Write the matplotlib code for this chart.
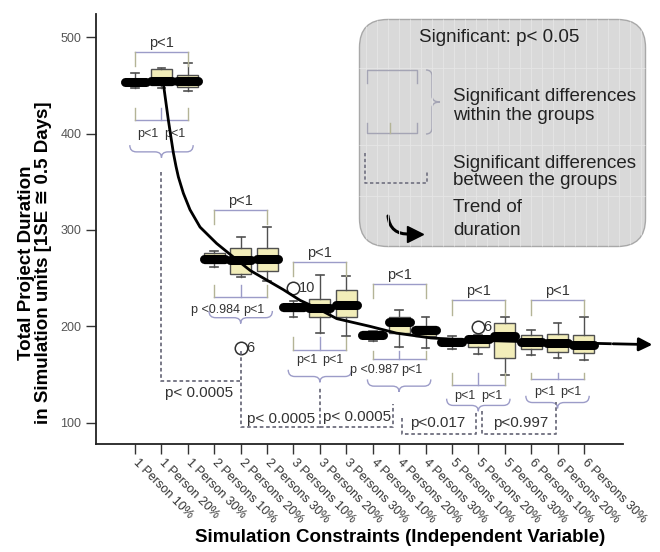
import matplotlib
matplotlib.use('Agg')
import matplotlib.pyplot as plt
from matplotlib.path import Path
from matplotlib.patches import PathPatch, FancyBboxPatch
import numpy as np

plt.rcParams['font.family'] = ['Liberation Sans', 'DejaVu Sans']

# categories
labels = ['1 Person 10%', '1 Person 20%', '1 Person 30%',
          '2 Persons 10%', '2 Persons 20%', '2 Persons 30%',
          '3 Persons 10%', '3 Persons 20%', '3 Persons 30%',
          '4 Persons 10%', '4 Persons 20%', '4 Persons 30%',
          '5 Persons 10%', '5 Persons 20%', '5 Persons 30%',
          '6 Persons 10%', '6 Persons 20%', '6 Persons 30%']

# box statistics
whislo = [447, 447, 444, 262, 251, 247, 210, 193, 190, 185, 179, 178, 177, 171, 150, 170, 167, 165]
q1 = [450, 450, 448, 266, 254, 257, 216, 210, 210, 188, 193, 190, 181, 179, 167, 177, 173, 172]
med = [453, 454, 454, 270, 269, 270, 220, 219, 222, 191, 205, 196, 184, 187, 190, 184, 183, 181]
q3 = [457, 467, 461, 276, 281, 281, 223, 228, 238, 195, 210, 200, 188, 190, 203, 191, 192, 191]
whishi = [463, 468, 473, 278, 293, 303, 226, 253, 252, 195, 217, 210, 190, 191, 210, 196, 203, 210]

# outliers
outlier_idx = [4, 6, 13]
outlier_val = [178, 240, 199]
outlier_lbl = ['6', '10', '6']

# trend of duration
trend_x = [2.07, 2.17, 2.26, 2.36, 2.45, 2.55, 2.64, 2.74, 2.83, 3.08, 3.46, 4.09, 4.72, 5.36, 5.99,
           6.62, 7.25, 7.88, 8.64, 9.9, 10.9, 12.2, 13.4, 16.0, 19.0, 20.7]
trend_y = [452, 432, 414, 396, 380, 366, 355, 346, 338, 321, 303, 286, 272, 258, 248,
           238, 227, 219, 208, 200, 193, 188, 186, 184, 182, 181]

# significance annotations per group
top_y = [485, 321, 267, 244, 227, 227]
top_lbl = ['p<1'] * 6
low_top = [426, 243, 189, 174, 152, 152]
low_bot = [414, 230, 176, 166, 139, 145]
low_lab_y = [400, 217, 165, 155, 128, 132]
low_lbl = [['p<1', 'p<1'], ['p <0.984', 'p<1'], ['p<1', 'p<1'],
           ['p <0.987', 'p<1'], ['p<1', 'p<1'], ['p<1', 'p<1']]
brace_y = [381, 209, 148, 138, 118, 121]

# between group comparisons (dashed)
dash_x = [[2, 2, 5], [5, 5, 8, 8], [8, 10.75, 10.75], [11.1, 11.1, 13.9, 13.9], [14.15, 14.15, 16.95, 16.95]]
dash_y = [[360, 143, 143], [174, 96, 96, 136], [96, 96, 119], [105, 88, 88, 112], [112, 88, 88, 122]]
dash_lbl = ['p< 0.0005', 'p< 0.0005', 'p< 0.0005', 'p<0.017', 'p<0.997']
dash_lbl_x = [2.15, 5.23, 8.12, 11.42, 14.56]
dash_lbl_y = [131, 104, 106, 100, 100]

pos = np.arange(1, len(labels) + 1)
brk_h = '#9c9cc8'
brk_v = '#b4b496'
dash_c = '#6e6e7e'


def brace(ax, s0, s1, sm, tb, e, tip, d, swap=False, **kw):
    pts = [(s0, tb + e), (s0, tb), (s0 + d, tb), (sm - d, tb), (sm, tb), (sm, tb + tip),
           (s1, tb + e), (s1, tb), (s1 - d, tb), (sm + d, tb), (sm, tb), (sm, tb + tip)]
    if swap:
        pts = [(t, s) for s, t in pts]
    codes = [Path.MOVETO, Path.CURVE3, Path.CURVE3, Path.LINETO, Path.CURVE3, Path.CURVE3] * 2
    ax.add_patch(PathPatch(Path(pts, codes), fill=False, **kw))


fig = plt.figure(figsize=(6.6, 5.52), dpi=100)
ax = fig.add_axes([96 / 660, 1 - 444 / 552, 527 / 660, 430 / 552])

stats = []
for i in range(len(labels)):
    fl = [outlier_val[k] for k in range(len(outlier_idx)) if outlier_idx[k] == i]
    stats.append(dict(med=med[i], q1=q1[i], q3=q3[i], whislo=whislo[i], whishi=whishi[i], fliers=fl))

ax.bxp(stats, positions=pos, widths=0.8, patch_artist=True, capwidths=0.3,
       boxprops=dict(facecolor='#f2edb9', edgecolor='#505050', lw=1),
       whiskerprops=dict(color='#505050', lw=1),
       capprops=dict(color='#505050', lw=1.2),
       medianprops=dict(color='black', lw=6.5, solid_capstyle='round'),
       flierprops=dict(marker='o', mfc='none', mec='#303030', ms=9, mew=1.1))

for k in range(len(outlier_idx)):
    ax.text(pos[outlier_idx[k]] + 0.2, outlier_val[k], outlier_lbl[k], fontsize=10.5,
            color='#333333', va='center', ha='left')

# trend line with arrow
ax.plot(trend_x[:-1], trend_y[:-1], color='black', lw=2, clip_on=False, zorder=4,
        solid_joinstyle='round')
ax.annotate('', xy=(trend_x[-1], trend_y[-1]), xytext=(trend_x[-2], trend_y[-2]),
            arrowprops=dict(arrowstyle='-|>', color='black', lw=2, mutation_scale=20),
            annotation_clip=False, zorder=4)

# group annotations
for g in range(6):
    p0, p1, p2 = pos[3 * g], pos[3 * g + 1], pos[3 * g + 2]
    y = top_y[g]
    ax.plot([p0, p2], [y, y], color=brk_h, lw=1)
    ax.plot([p0, p0], [y, y - 15], color=brk_v, lw=1)
    ax.plot([p2, p2], [y, y - 15], color=brk_v, lw=1)
    ax.text((p0 + p2) / 2, y + 2, top_lbl[g], ha='center', va='bottom', fontsize=10.5, color='#333333')

    ax.plot([p0, p2], [low_bot[g], low_bot[g]], color=brk_h, lw=1)
    for p in (p0, p1, p2):
        ax.plot([p, p], [low_top[g], low_bot[g]], color=brk_v if p != p1 else brk_h, lw=1)
    l1, l2 = low_lbl[g]
    if len(l1) > 4:
        ax.text(p1 - 0.02, low_lab_y[g], l1, ha='right', va='center', fontsize=9, color='#333333')
        ax.text(p1 + 0.08, low_lab_y[g], l2, ha='left', va='center', fontsize=9, color='#333333')
    else:
        ax.text((p0 + p1) / 2, low_lab_y[g], l1, ha='center', va='center', fontsize=9, color='#333333')
        ax.text((p1 + p2) / 2, low_lab_y[g], l2, ha='center', va='center', fontsize=9, color='#333333')
    brace(ax, p0 - 0.2, p2 + 0.2, p1, brace_y[g], 7, -6, 0.25, color=brk_h, lw=1)

for k in range(len(dash_x)):
    ax.plot(dash_x[k], dash_y[k], color=dash_c, lw=1.3, ls=(0, (2, 1.5)))
    ax.text(dash_lbl_x[k], dash_lbl_y[k], dash_lbl[k], ha='left', va='center', fontsize=11, color='#333333')

ax.set_xlim(-0.48, 19.48)
ax.set_ylim(78, 524)
ax.set_yticks([100, 200, 300, 400, 500])
ax.set_xticks(pos)
ax.set_xticklabels(labels, rotation=-45, ha='left', va='center', rotation_mode='anchor',
                   fontsize=9, color='#333333')
ax.tick_params(axis='both', direction='out', length=7, width=1, color='#333333')
ax.tick_params(axis='x', pad=5)
ax.tick_params(axis='y', labelsize=9, labelcolor='#555555')
for s in ('top', 'right'):
    ax.spines[s].set_visible(False)
for s in ('left', 'bottom'):
    ax.spines[s].set_linewidth(1.3)
    ax.spines[s].set_color('#222222')

fig.text(35 / 660, 1 - 263 / 552,
         'Total Project Duration\nin Simulation units [1SE \u2245 0.5 Days]',
         rotation=90, ha='center', va='center', fontsize=13.5, fontweight='bold',
         multialignment='center', linespacing=1.05)
fig.text(400 / 660, 1 - 538 / 552, 'Simulation Constraints (Independent Variable)',
         ha='center', va='center', fontsize=13.5, fontweight='bold')

# legend panel in pixel units
lg = fig.add_axes([358 / 660, 1 - 248 / 552, 289 / 660, 230 / 552], zorder=5)
lg.set_xlim(0, 289)
lg.set_ylim(230, 0)
lg.axis('off')
panel = FancyBboxPatch((1.5, 1.5), 286, 227, boxstyle='round,pad=0,rounding_size=28',
                       facecolor='#d9d9d9', edgecolor='#a8a8a8', lw=1)
lg.add_patch(panel)
for gx in np.arange(8, 286, 11):
    ln, = lg.plot([gx, gx], [0, 230], color='#e6e6e6', lw=0.6)
    ln.set_clip_path(panel)
for gy in (50, 127, 178):
    ln, = lg.plot([0, 289], [gy, gy], color='#e6e6e6', lw=0.6)
    ln.set_clip_path(panel)

lg.text(141, 19, 'Significant: p< 0.05', ha='center', va='center', fontsize=13.5, color='#222222')
lg.plot([9, 9, 59, 59], [65, 52, 52, 65], color='#a4a4b4', lw=1)
lg.plot([9, 9, 59, 59], [105, 115, 115, 105], color='#a4a4b4', lw=1)
lg.plot([32, 32], [105, 115], color='#b4b496', lw=1)
brace(lg, 52, 116, 84, 74, -6, 8, 6, swap=True, color='#a4a4b4', lw=1)
lg.text(95, 88, 'Significant differences\nwithin the groups', ha='left', va='center',
        fontsize=13.5, color='#222222', linespacing=1.1)
lg.plot([7, 7, 69, 69], [135, 165, 165, 152], color='#707080', lw=1.2, ls=(0, (2, 1.5)))
lg.text(95, 154, 'Significant differences\nbetween the groups', ha='left', va='center',
        fontsize=13.5, color='#222222', linespacing=1.05)
# trend icon: curved stroke and arrow head
lg.add_patch(PathPatch(Path([(30, 198), (32, 217), (52, 216)], [Path.MOVETO, Path.CURVE3, Path.CURVE3]),
                       fill=False, lw=2.2, color='black', capstyle='round'))
lg.plot([57], [216], marker='>', ms=11, color='black')
lg.text(95, 201, 'Trend of\nduration', ha='left', va='center', fontsize=13.5,
        color='#222222', linespacing=1.5)

fig.savefig('out.png', dpi=100)
